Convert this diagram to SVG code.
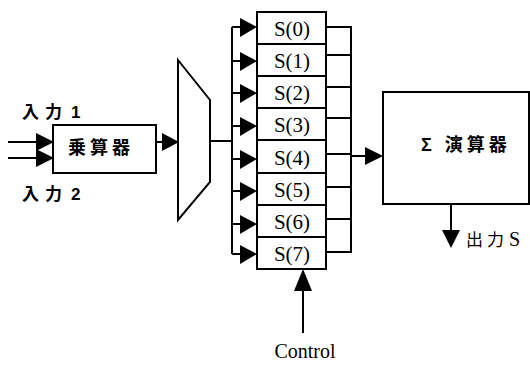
<svg xmlns="http://www.w3.org/2000/svg" width="530" height="371" viewBox="0 0 530 371">
<defs>
<style>
.ln{fill:none;stroke:#000;stroke-width:2}
.bx{fill:#fff;stroke:#000;stroke-width:2}
.ah{fill:#000;stroke:none}
.cjk{font-family:"Liberation Sans","Noto Sans CJK JP",sans-serif;font-size:17px;font-weight:bold;fill:#000}
.ser{font-family:"Liberation Serif",serif;font-size:21px;fill:#000}
</style>
</defs>
<rect width="530" height="371" fill="#fff"/>
<g id="connectors">
<path class="ln" d="M8,142H40M8,158H40"/>
<path class="ah" d="M36,133L54,142L36,151Z"/>
<path class="ah" d="M36,149L54,158L36,167Z"/>
<path class="ln" d="M156,142H166"/>
<path class="ah" d="M162,133L179,142L162,151Z"/>
<path class="ln" d="M210,141H232M232,27V254"/>
<path class="ln" d="M232,27H244M232,61H244M232,93H244M232,126H244M232,159H244M232,191H244M232,224H244M232,254H244"/>
<path class="ah" d="M240,18L257,27L240,37Z"/>
<path class="ah" d="M240,52L257,61L240,71Z"/>
<path class="ah" d="M240,84L257,93L240,103Z"/>
<path class="ah" d="M240,117L257,126L240,136Z"/>
<path class="ah" d="M240,150L257,159L240,169Z"/>
<path class="ah" d="M240,182L257,191L240,201Z"/>
<path class="ah" d="M240,215L257,224L240,234Z"/>
<path class="ah" d="M240,245L257,254L240,264Z"/>
<path class="ln" d="M326,27H351M326,55H351M326,87H351M326,118H351M326,154H351M326,187H351M326,219H351M326,252H351M351,26V253"/>
<path class="ln" d="M351,156H368"/>
<path class="ah" d="M365,147L383,156L365,165Z"/>
<path class="ln" d="M451,204V234"/>
<path class="ah" d="M442,230L451,248L460,230Z"/>
<path class="ln" d="M303,333V285"/>
<path class="ah" d="M294,291L303,269L312,291Z"/>
</g>
<g id="mult">
<rect class="bx" x="53" y="125" width="103" height="48"/>
<text class="cjk" x="68" y="154" style="font-size:18px;letter-spacing:4px">乗算器</text>
</g>
<g id="mux">
<path class="bx" d="M178,60L210,100V182L178,220Z"/>
</g>
<g id="registers">
<rect class="bx" x="257" y="12" width="69" height="257"/>
<path class="ln" d="M257,44H326M257,76H326M257,108H326M257,140H326M257,173H326M257,205H326M257,237H326"/>
<text class="ser" x="292" y="36" text-anchor="middle">S(0)</text>
<text class="ser" x="292" y="68" text-anchor="middle">S(1)</text>
<text class="ser" x="292" y="100" text-anchor="middle">S(2)</text>
<text class="ser" x="292" y="132" text-anchor="middle">S(3)</text>
<text class="ser" x="292" y="165" text-anchor="middle">S(4)</text>
<text class="ser" x="292" y="197" text-anchor="middle">S(5)</text>
<text class="ser" x="292" y="229" text-anchor="middle">S(6)</text>
<text class="ser" x="292" y="261" text-anchor="middle">S(7)</text>
</g>
<g id="sigma">
<rect class="bx" x="383" y="92" width="146" height="112"/>
<text class="cjk" x="421" y="151" style="font-size:18px;letter-spacing:4px">Σ 演算器</text>
</g>
<g id="labels">
<text class="cjk" x="22" y="118">入<tspan x="45">力</tspan> <tspan x="71">1</tspan></text>
<text class="cjk" x="22" y="200">入<tspan x="45">力</tspan> <tspan x="71">2</tspan></text>
<text class="cjk" x="466" y="246" style="font-weight:normal;font-size:17px">出<tspan x="487">力</tspan> <tspan x="509" style="font-family:'Liberation Serif',serif;font-size:20px">S</tspan></text>
<text class="ser" x="305" y="358" text-anchor="middle" style="font-size:20px">Control</text>
</g>
</svg>
